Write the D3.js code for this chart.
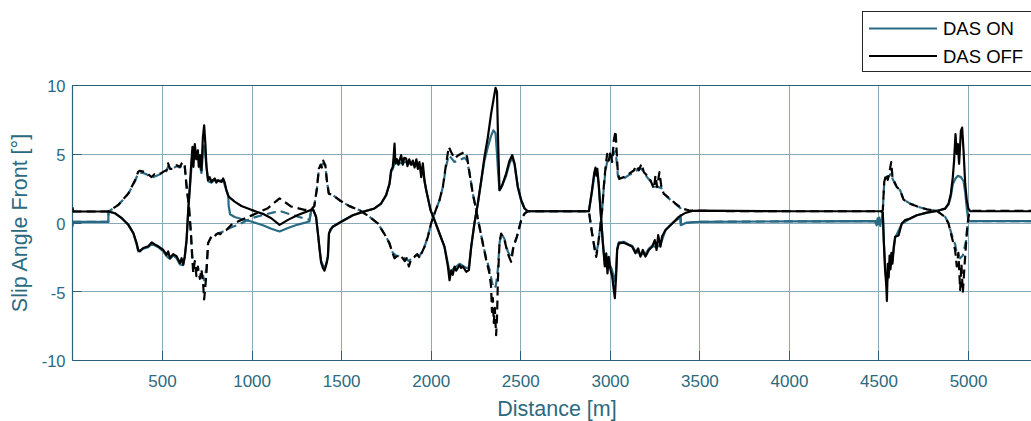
<!DOCTYPE html>
<html>
<head>
<meta charset="utf-8">
<script src="https://cdn.jsdelivr.net/npm/d3@7"></script>
<style>
  html, body { margin: 0; padding: 0; background: #fff; }
  svg { display: block; }
</style>
</head>
<body>
<svg id="chart" width="1031" height="421"></svg>
<script>
// Front slip angle along the lap, [distance m, angle deg]
const offSolid = [
  [0, 1.1], [4, 0.8], [200, 0.8], [238, 0.67], [275, 0.31], [312, -0.17], [340, -0.77], [358, -1.5], [367, -2.0], [376, -2.1],
  [395, -1.85], [423, -1.73], [442, -1.45], [460, -1.6], [479, -1.73], [507, -2.0], [525, -2.35], [534, -2.1], [544, -2.58],
  [562, -2.3], [581, -2.45], [600, -2.94], [609, -2.6], [618, -3.06], [627, -2.45], [637, -1.25], [646, 0.92], [655, 2.6],
  [664, 4.5], [670, 5.5], [675, 4.05], [683, 5.7], [691, 4.6], [700, 5.25], [705, 4.05], [712, 4.9], [720, 3.8], [728, 6.2],
  [735, 7.06], [742, 5.7], [748, 4.05], [757, 3.08], [766, 3.3], [776, 2.96], [785, 3.1], [794, 3.2], [803, 2.9], [813, 3.08],
  [822, 3.0], [832, 2.95], [841, 3.2], [850, 2.9], [859, 2.36], [872, 1.88], [905, 1.52], [943, 1.2], [998, 0.92], [1063, 0.63],
  [1110, 0.31], [1156, -0.17], [1203, 0.19], [1258, 0.55], [1333, 0.92], [1345, 0.9], [1360, 0.4], [1372, -1.0], [1380, -2.0],
  [1388, -2.9], [1398, -3.3], [1407, -3.5], [1414, -3.2], [1420, -2.9], [1426, -2.5], [1432, -0.8], [1440, -0.5], [1453, -0.31],
  [1500, 0.05], [1565, 0.53], [1621, 0.77], [1686, 1.02], [1723, 1.38], [1751, 1.99], [1770, 2.83], [1779, 3.8], [1788, 4.04],
  [1793, 4.8], [1798, 5.74], [1803, 4.3], [1812, 4.6], [1820, 4.2], [1826, 4.5], [1835, 4.9], [1844, 4.2], [1852, 4.7],
  [1863, 4.65], [1870, 4.1], [1880, 4.6], [1890, 4.2], [1900, 4.5], [1910, 4.0], [1920, 4.6], [1928, 3.9], [1937, 4.4],
  [1947, 3.3], [1956, 4.3], [1965, 3.07], [1975, 2.35], [1999, 0.9], [2021, 0.17], [2049, -0.8], [2077, -1.77], [2096, -3.2],
  [2105, -4.2], [2114, -3.5], [2123, -3.8], [2133, -3.2], [2142, -3.5], [2161, -3.1], [2170, -3.3], [2180, -3.2], [2198, -3.58],
  [2213, -3.46], [2226, -1.77], [2244, -0.07], [2263, 1.38], [2282, 3.07], [2300, 4.77], [2319, 6.2], [2337, 7.9], [2350, 8.9],
  [2362, 9.8], [2370, 9.5], [2377, 5.5], [2384, 2.35], [2399, 2.7], [2421, 3.56], [2440, 4.5], [2455, 4.9], [2468, 4.3],
  [2486, 2.6], [2505, 1.62], [2524, 1.02], [2542, 0.82], [2883, 0.82], [2900, 2.3], [2913, 3.6], [2920, 4.0], [2925, 3.4],
  [2930, 3.9], [2938, 2.8], [2948, 0.9], [2961, -1.5], [2972, -3.2], [2980, -2.24], [2987, -3.7], [2994, -2.5], [3004, -3.45],
  [3013, -3.9], [3022, -4.9], [3028, -5.5], [3035, -3.9], [3041, -2.0], [3050, -1.52], [3078, -1.47], [3106, -1.64],
  [3125, -1.76], [3143, -2.24], [3158, -1.88], [3171, -2.48], [3184, -2.0], [3199, -2.48], [3218, -2.0], [3236, -1.76],
  [3251, -1.28], [3261, -2.0], [3270, -0.92], [3283, -1.76], [3292, -1.0], [3311, -0.55], [3348, -0.07], [3385, 0.41],
  [3422, 0.7], [3460, 0.84], [3502, 0.86], [4000, 0.82], [4519, 0.82], [4524, 0.7], [4530, -1.5], [4537, -3.5], [4543, -4.5],
  [4547, -5.7], [4552, -3.0], [4557, -4.0], [4562, -2.4], [4567, -3.4], [4572, -2.2], [4578, -3.0], [4585, -1.8], [4593, -1.04],
  [4612, -0.95], [4630, -0.07], [4649, 0.17], [4677, 0.29], [4714, 0.53], [4770, 0.72], [4826, 0.84], [4872, 1.01], [4891, 1.37],
  [4904, 2.1], [4915, 3.3], [4922, 4.5], [4930, 6.43], [4937, 4.99], [4943, 5.7], [4950, 4.27], [4960, 6.67], [4967, 6.9],
  [4975, 5.2], [4984, 2.82], [4993, 1.61], [5002, 1.01], [5012, 0.82], [5360, 0.82]
];

const offDashed = [
  [0, 0.8], [200, 0.8], [256, 1.28], [312, 2.12], [349, 3.08], [367, 3.69], [376, 3.76], [395, 3.7], [414, 3.6], [442, 3.3],
  [456, 3.5], [470, 3.45], [497, 3.6], [515, 3.75], [525, 3.8], [534, 4.3], [544, 3.9], [553, 3.9], [566, 4.1], [581, 4.17],
  [600, 4.05], [610, 4.3], [618, 4.4], [627, 4.1], [637, 2.6], [650, 1.16], [661, -0.77], [668, -2.45], [674, -3.66],
  [683, -2.8], [692, -3.9], [700, -3.2], [711, -4.1], [720, -3.4], [730, -4.6], [735, -5.6], [740, -4.9], [748, -3.66],
  [757, -1.5], [776, -1.0], [790, -1.1], [800, -0.9], [813, -0.77], [825, -0.85], [841, -0.65], [859, -0.55], [887, -0.17],
  [924, 0.07], [998, 0.5], [1091, 1.04], [1156, 1.76], [1221, 1.16], [1295, 0.92], [1333, 0.92], [1350, 1.2], [1365, 2.5],
  [1375, 3.9], [1385, 4.2], [1392, 4.0], [1400, 4.5], [1406, 4.3], [1412, 4.16], [1420, 3.07], [1431, 2.1], [1453, 1.99],
  [1491, 1.62], [1546, 1.19], [1602, 0.9], [1658, 0.41], [1705, -0.07], [1751, -1.04], [1770, -1.53], [1788, -2.25],
  [1798, -2.6], [1807, -2.5], [1825, -2.35], [1844, -2.6], [1855, -2.8], [1866, -2.6], [1878, -3.2], [1890, -2.7],
  [1909, -2.5], [1925, -2.3], [1940, -2.6], [1950, -2.2], [1965, -1.77], [1984, -1.04], [2002, -0.07], [2021, 0.65],
  [2049, 1.62], [2068, 2.6], [2086, 4.28], [2101, 5.5], [2114, 5.13], [2133, 4.65], [2150, 4.85], [2170, 5.0], [2189, 5.13],
  [2203, 4.77], [2217, 3.56], [2235, 2.1], [2254, 0.9], [2272, -0.31], [2291, -1.53], [2310, -2.74], [2328, -3.7],
  [2337, -4.67], [2342, -6.5], [2347, -5.5], [2352, -7.3], [2358, -6.2], [2365, -8.2], [2370, -7.0], [2375, -4.2],
  [2384, -1.53], [2393, -0.8], [2412, -1.28], [2430, -2.25], [2449, -2.86], [2462, -1.77], [2481, -1.04], [2505, 0.17],
  [2524, 0.65], [2542, 0.82], [2883, 0.82], [2901, -0.8], [2916, -2.0], [2924, -2.5], [2933, -1.76], [2945, -0.5], [2957, 0.9],
  [2966, 2.58], [2976, 4.0], [2985, 5.0], [2994, 4.5], [3004, 5.2], [3013, 4.4], [3022, 5.95], [3032, 6.67], [3037, 5.47],
  [3045, 3.54], [3054, 3.18], [3078, 3.3], [3106, 3.54], [3134, 3.78], [3147, 4.14], [3162, 3.8], [3177, 4.27], [3190, 3.66],
  [3208, 3.42], [3227, 3.06], [3246, 2.46], [3255, 3.42], [3264, 2.58], [3277, 3.66], [3288, 2.58], [3301, 2.1], [3329, 1.8],
  [3367, 1.37], [3404, 1.01], [3441, 0.89], [3502, 0.84], [4000, 0.82], [4519, 0.82], [4524, 0.89], [4532, 2.94], [4543, 3.54],
  [4552, 3.1], [4561, 3.66], [4571, 4.39], [4578, 3.3], [4589, 2.94], [4602, 2.58], [4621, 2.34], [4640, 1.66], [4677, 1.37],
  [4723, 1.13], [4770, 0.96], [4826, 0.84], [4872, 0.41], [4891, -0.07], [4909, -1.04], [4928, -2.0], [4937, -3.2],
  [4946, -2.2], [4956, -4.9], [4963, -3.0], [4971, -5.1], [4980, -3.2], [4989, -1.5], [4997, -0.07], [5008, 0.77],
  [5020, 0.84], [5360, 0.84]
];

const onSolid = [
  [0, -0.3], [4, 0.05], [200, 0.05], [201, 0.8], [238, 0.67], [275, 0.31], [312, -0.17], [340, -0.8], [358, -1.6], [367, -2.1],
  [395, -1.9], [423, -1.8], [442, -1.55], [479, -1.8], [507, -2.1], [525, -2.45], [544, -2.65], [562, -2.4], [581, -2.6],
  [600, -3.05], [618, -3.1], [627, -2.5], [637, -1.3], [646, 0.8], [655, 2.4], [664, 4.0], [670, 4.9], [683, 5.2], [700, 4.8],
  [720, 3.6], [728, 5.0], [735, 5.6], [742, 4.8], [757, 3.0], [776, 2.9], [794, 3.1], [813, 3.0], [841, 3.1], [859, 2.36],
  [870, 1.9], [872, 1.2], [880, 0.6], [905, 0.4], [943, 0.25], [998, 0.07], [1063, -0.2], [1110, -0.45], [1156, -0.65],
  [1203, -0.4], [1258, -0.15], [1323, 0.07], [1333, 0.92], [1345, 0.9], [1360, 0.4], [1372, -1.0], [1380, -2.0], [1388, -2.8],
  [1398, -3.1], [1407, -3.3], [1414, -3.1], [1420, -2.8], [1426, -2.4], [1432, -0.8], [1453, -0.31], [1500, 0.05], [1565, 0.53],
  [1621, 0.77], [1686, 1.02], [1723, 1.38], [1751, 1.99], [1770, 2.8], [1779, 3.7], [1788, 3.9], [1798, 4.3], [1826, 4.3],
  [1863, 4.4], [1900, 4.2], [1937, 4.1], [1956, 3.9], [1965, 3.0], [1975, 2.35], [1999, 0.9], [2021, 0.17], [2049, -0.8],
  [2077, -1.77], [2096, -3.0], [2105, -3.6], [2123, -3.4], [2161, -3.0], [2198, -3.3], [2213, -3.3], [2226, -1.77],
  [2244, -0.07], [2263, 1.38], [2282, 3.0], [2300, 4.5], [2319, 5.5], [2337, 6.3], [2350, 6.7], [2362, 6.5], [2370, 5.0],
  [2377, 3.5], [2384, 2.35], [2399, 2.7], [2421, 3.4], [2440, 4.3], [2455, 4.7], [2468, 4.2], [2486, 2.6], [2505, 1.62],
  [2524, 1.02], [2542, 0.82], [2883, 0.82], [2900, 2.2], [2913, 3.4], [2920, 3.8], [2930, 3.6], [2938, 2.7], [2948, 0.9],
  [2961, -1.4], [2972, -3.0], [2987, -3.3], [3004, -3.2], [3013, -3.5], [3022, -4.0], [3028, -4.3], [3035, -3.5], [3041, -1.9],
  [3050, -1.45], [3078, -1.4], [3106, -1.6], [3125, -1.7], [3143, -2.1], [3171, -2.3], [3199, -2.3], [3218, -1.9],
  [3236, -1.7], [3261, -1.8], [3283, -1.6], [3311, -0.55], [3348, -0.07], [3385, 0.3], [3394, 0.3], [3396, -0.2],
  [3420, -0.05], [3460, 0.02], [3502, 0.05], [4000, 0.08], [4480, 0.1], [4490, -0.2], [4495, 0.3], [4500, -0.1], [4505, 0.35],
  [4510, -0.25], [4515, 0.2], [4520, 0.1], [4524, 0.7], [4530, -1.4], [4537, -3.2], [4543, -4.0], [4547, -4.3], [4557, -3.6],
  [4567, -3.2], [4578, -2.7], [4593, -1.1], [4630, -0.1], [4677, 0.29], [4714, 0.53], [4770, 0.72], [4826, 0.84], [4872, 1.01],
  [4891, 1.3], [4904, 1.9], [4915, 2.8], [4930, 3.2], [4943, 3.4], [4960, 3.3], [4975, 3.0], [4984, 2.2], [4993, 1.0],
  [5000, 0.3], [5005, 0.1], [5360, 0.1]
];

const onDashed = [
  [0, 0.05], [200, 0.05], [201, 0.8], [256, 1.28], [312, 2.1], [349, 3.0], [367, 3.6], [395, 3.6], [414, 3.5], [442, 3.25],
  [470, 3.4], [497, 3.55], [525, 3.75], [534, 4.1], [553, 3.85], [581, 4.1], [600, 4.0], [618, 4.25], [627, 4.0], [637, 2.6],
  [650, 1.16], [661, -0.7], [668, -2.3], [674, -3.2], [692, -3.4], [711, -3.6], [730, -3.9], [735, -4.2], [748, -3.3],
  [757, -1.5], [776, -1.0], [813, -0.8], [841, -0.65], [859, -0.55], [887, -0.35], [924, -0.17], [998, 0.31], [1080, 0.6],
  [1156, 0.84], [1240, 0.5], [1323, 0.19], [1333, 0.92], [1350, 1.2], [1365, 2.5], [1375, 3.8], [1385, 4.1], [1400, 4.3],
  [1412, 4.1], [1420, 3.07], [1431, 2.1], [1453, 1.99], [1491, 1.62], [1546, 1.19], [1602, 0.9], [1658, 0.41], [1705, -0.07],
  [1751, -1.04], [1770, -1.53], [1788, -2.2], [1807, -2.4], [1844, -2.5], [1878, -2.8], [1909, -2.4], [1940, -2.4],
  [1965, -1.77], [1984, -1.04], [2002, -0.07], [2021, 0.65], [2049, 1.62], [2068, 2.6], [2086, 4.1], [2101, 4.9], [2114, 4.7],
  [2133, 4.4], [2170, 4.6], [2189, 4.7], [2203, 4.5], [2217, 3.56], [2235, 2.1], [2254, 0.9], [2272, -0.31], [2291, -1.53],
  [2310, -2.6], [2328, -3.4], [2337, -4.0], [2347, -4.6], [2358, -4.8], [2365, -4.5], [2375, -3.4], [2384, -1.53], [2393, -0.8],
  [2412, -1.2], [2430, -2.1], [2449, -2.6], [2462, -1.7], [2481, -1.04], [2505, 0.17], [2524, 0.65], [2542, 0.82], [2883, 0.82],
  [2901, -0.8], [2916, -1.9], [2924, -2.3], [2933, -1.7], [2945, -0.5], [2957, 0.9], [2966, 2.5], [2976, 3.8], [2985, 4.4],
  [3004, 4.6], [3022, 5.0], [3032, 5.2], [3037, 4.6], [3045, 3.4], [3054, 3.1], [3078, 3.2], [3106, 3.45], [3134, 3.6],
  [3160, 3.9], [3177, 3.9], [3208, 3.3], [3227, 3.0], [3246, 2.6], [3264, 2.6], [3288, 2.5], [3301, 2.1], [3329, 1.75],
  [3367, 1.35], [3394, 1.05], [3397, -0.05], [3460, 0.02], [3502, 0.05], [4000, 0.08], [4520, 0.1], [4524, 0.89], [4532, 2.9],
  [4543, 3.3], [4561, 3.4], [4571, 3.6], [4578, 3.2], [4589, 2.9], [4602, 2.58], [4621, 2.34], [4640, 1.66], [4677, 1.37],
  [4723, 1.13], [4770, 0.96], [4826, 0.84], [4872, 0.41], [4891, -0.07], [4909, -0.9], [4928, -1.6], [4937, -2.2],
  [4956, -2.6], [4971, -2.4], [4989, -1.3], [4997, -0.3], [5003, 0.1], [5360, 0.1]
];

const xTicks = [500, 1000, 1500, 2000, 2500, 3000, 3500, 4000, 4500, 5000];
const yTicks = [-10, -5, 0, 5, 10];
const legendLabels = ["DAS ON", "DAS OFF"];

const axisColor = "#2b6178";
const textColor = "#2c6a80";
const gridColor = "#8aa9b8";
const onColor = "#2b6a84";
const offColor = "#000000";
const font = "'Liberation Sans', Arial, Helvetica, sans-serif";

const svg = d3.select("#chart");
const plotLeft = 72.5, plotTop = 85, plotBottom = 360, plotRight = 1031;
const x = d3.scaleLinear().domain([0, 5360]).range([plotLeft, plotLeft + 5360 * 0.17911]);
const y = d3.scaleLinear().domain([-10, 10]).range([plotBottom, plotTop]);

// grid
const grid = svg.append("g");
grid.selectAll("line.v").data(xTicks).join("line")
  .attr("x1", d => Math.round(x(d)) + 0.5).attr("x2", d => Math.round(x(d)) + 0.5)
  .attr("y1", plotTop).attr("y2", plotBottom)
  .attr("stroke", gridColor).attr("stroke-width", 1);
grid.selectAll("line.h").data(yTicks.filter(v => v > -10 && v < 10)).join("line")
  .attr("x1", plotLeft).attr("x2", plotRight)
  .attr("y1", d => Math.round(y(d)) + 0.5).attr("y2", d => Math.round(y(d)) + 0.5)
  .attr("stroke", gridColor).attr("stroke-width", 1);

// axes
const plainFmt = d => String(d);
const xAxis = d3.axisBottom(x).tickValues(xTicks).tickFormat(plainFmt).tickSize(0).tickPadding(15);
const gx = svg.append("g").attr("transform", `translate(0,${plotBottom})`).call(xAxis);
gx.select(".domain").remove();
gx.selectAll("text").attr("fill", textColor).style("font-family", font).style("font-size", "17px");

const yAxis = d3.axisLeft(y).tickValues(yTicks).tickFormat(plainFmt).tickSize(0).tickPadding(7);
const gy = svg.append("g").attr("transform", `translate(${plotLeft},0)`).call(yAxis);
gy.select(".domain").remove();
gy.selectAll("text").attr("fill", textColor).attr("dy", "0.42em")
  .style("font-family", font).style("font-size", "16.5px");

// small inner tick marks
svg.append("g").selectAll("line").data(yTicks).join("line")
  .attr("x1", plotLeft).attr("x2", plotLeft + 9)
  .attr("y1", d => Math.round(y(d)) + 0.5).attr("y2", d => Math.round(y(d)) + 0.5)
  .attr("stroke", axisColor).attr("stroke-width", 1);
svg.append("g").selectAll("line").data(xTicks).join("line")
  .attr("x1", d => Math.round(x(d)) + 0.5).attr("x2", d => Math.round(x(d)) + 0.5)
  .attr("y1", plotBottom).attr("y2", plotBottom - 9)
  .attr("stroke", axisColor).attr("stroke-width", 1);

// box lines
svg.append("line").attr("x1", plotLeft).attr("x2", plotLeft).attr("y1", plotTop).attr("y2", plotBottom + 0.5)
  .attr("stroke", axisColor).attr("stroke-width", 1.2);
svg.append("line").attr("x1", plotLeft).attr("x2", plotRight).attr("y1", plotTop + 0.5).attr("y2", plotTop + 0.5)
  .attr("stroke", axisColor).attr("stroke-width", 1.2);
svg.append("line").attr("x1", plotLeft).attr("x2", plotRight).attr("y1", plotBottom + 0.5).attr("y2", plotBottom + 0.5)
  .attr("stroke", axisColor).attr("stroke-width", 1.2);

// series
svg.append("clipPath").attr("id", "plotClip").append("rect")
  .attr("x", plotLeft).attr("y", plotTop - 2).attr("width", plotRight - plotLeft).attr("height", plotBottom - plotTop + 4);
const line = d3.line().x(d => x(d[0])).y(d => y(d[1]));
const plot = svg.append("g").attr("clip-path", "url(#plotClip)");
const series = [
  { data: onSolid, color: onColor, dash: null },
  { data: onDashed, color: onColor, dash: "9,5" },
  { data: offSolid, color: offColor, dash: null },
  { data: offDashed, color: offColor, dash: "9,5" }
];
plot.selectAll("path").data(series).join("path")
  .attr("d", s => line(s.data))
  .attr("fill", "none")
  .attr("stroke", s => s.color)
  .attr("stroke-width", 2.2)
  .attr("stroke-linejoin", "round")
  .attr("stroke-dasharray", s => s.dash);

// axis titles
svg.append("text").attr("x", 557).attr("y", 416).attr("text-anchor", "middle")
  .attr("fill", textColor).style("font-family", font).style("font-size", "21.5px")
  .text("Distance [m]");
svg.append("text").attr("transform", "translate(27,223) rotate(-90)").attr("text-anchor", "middle")
  .attr("fill", textColor).style("font-family", font).style("font-size", "21.5px")
  .text("Slip Angle Front [°]");

// legend
const lg = svg.append("g");
lg.append("rect").attr("x", 862.5).attr("y", 11.5).attr("width", 200).attr("height", 60)
  .attr("fill", "#fff").attr("stroke", "#262626").attr("stroke-width", 1);
const legendColors = [onColor, offColor];
legendLabels.forEach((lab, i) => {
  const ly = 28.5 + i * 27.5;
  lg.append("line").attr("x1", 869).attr("x2", 937).attr("y1", ly).attr("y2", ly)
    .attr("stroke", legendColors[i]).attr("stroke-width", 2.2);
  lg.append("text").attr("x", 943).attr("y", ly + 6.8).attr("fill", "#000")
    .style("font-family", font).style("font-size", "18.5px").text(lab);
});
</script>
</body>
</html>
